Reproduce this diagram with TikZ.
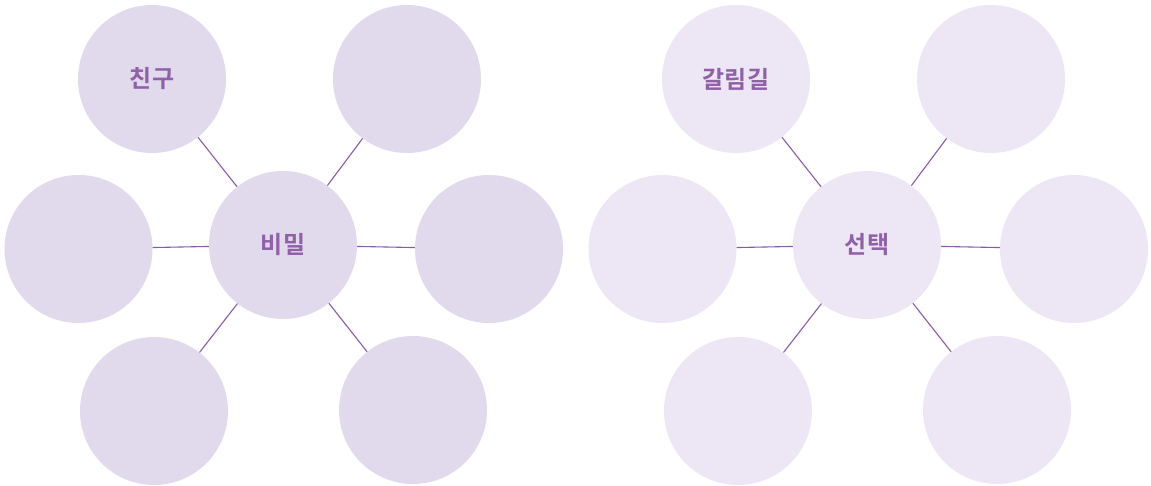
\documentclass[tikz,border=0pt]{standalone}
\usepackage{fontspec}
\newfontfamily\kr{Noto Sans CJK KR}[BoldFont={* Bold}]
\definecolor{fillA}{HTML}{E1D9EC}
\definecolor{fillB}{HTML}{EDE6F4}
\definecolor{txt}{HTML}{9060A8}
\definecolor{edge}{HTML}{8A5AA8}
\tikzset{
  bub/.style={circle, minimum size=148pt, inner sep=0pt, font=\kr\bfseries\fontsize{24}{28}\selectfont, text=txt},
  bubA/.style={bub, fill=fillA},
  bubB/.style={bub, fill=fillB},
  link/.style={draw=edge, line width=1.1pt}
}
\begin{document}
\begin{tikzpicture}[x=1pt,y=-1pt]
\useasboundingbox (0,0) rectangle (1151,486);
% left group
\node[bubA] (c1) at (283,245) {비밀};
\node[bubA] (a1) at (152,79) {친구};
\node[bubA] (a2) at (407,79) {};
\node[bubA] (a3) at (78.5,249) {};
\node[bubA] (a4) at (489,249) {};
\node[bubA] (a5) at (154,411) {};
\node[bubA] (a6) at (413,410) {};
% right group
\node[bubB] (c2) at (867,245) {선택};
\node[bubB] (b1) at (736,79) {갈림길};
\node[bubB] (b2) at (991,79) {};
\node[bubB] (b3) at (662.5,249) {};
\node[bubB] (b4) at (1074,249) {};
\node[bubB] (b5) at (738,411) {};
\node[bubB] (b6) at (997,410) {};
\foreach \s in {a1,a2,a3,a4,a5,a6} \draw[link] (c1) -- (\s);
\foreach \s in {b1,b2,b3,b4,b5,b6} \draw[link] (c2) -- (\s);
\end{tikzpicture}
\end{document}
